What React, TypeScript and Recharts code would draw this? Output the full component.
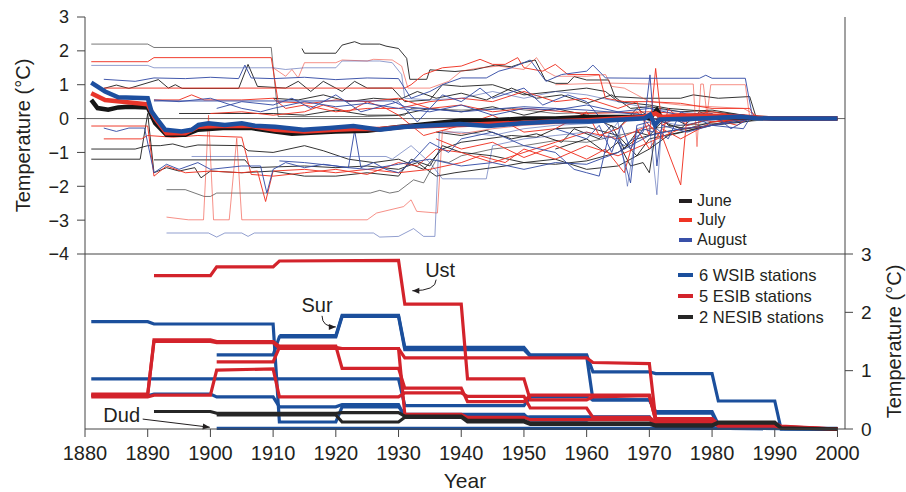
import React from "react";
import { LineChart, Line, XAxis, YAxis, ReferenceLine } from "recharts";

type Pt = [number, number];

const yearTicks = [1880, 1890, 1900, 1910, 1920, 1930, 1940, 1950, 1960, 1970, 1980, 1990, 2000];
const topTicks = [-4, -3, -2, -1, 0, 1, 2, 3];
const bottomTicks = [0, 1, 2, 3];

// thick mean curves (top panel)
const juneMean: Pt[] = [[1881,0.55],[1882,0.31],[1883.7,0.26],[1885.3,0.33],[1887,0.35],[1890,0.33],[1891.2,-0.14],[1893,-0.48],[1896,-0.48],[1898,-0.33],[1902,-0.28],[1906.6,-0.28],[1910.3,-0.38],[1913,-0.45],[1916,-0.42],[1920,-0.38],[1925,-0.36],[1930,-0.25],[1935,-0.15],[1940,-0.06],[1945,-0.05],[1950,0],[1955,0],[1960,0.05],[1965,0.05],[1969,0.05],[1970,0],[1971.2,0.25],[1972,0],[1975,0.05],[1980,0.04],[1985,0.04],[1988,0.02],[1990,0],[2000,0]];
const julyMean: Pt[] = [[1881,0.75],[1883.2,0.55],[1886,0.5],[1890,0.42],[1891.2,0],[1893,-0.43],[1896,-0.43],[1898,-0.24],[1901.3,-0.22],[1906.6,-0.22],[1910.3,-0.33],[1915,-0.38],[1920,-0.33],[1923,-0.31],[1927,-0.31],[1931,-0.24],[1935,-0.22],[1940,-0.19],[1945,-0.15],[1950,-0.12],[1955,-0.08],[1960,-0.05],[1965,0],[1969,0.05],[1970,0.1],[1971,0.15],[1972,0.05],[1975,0.08],[1980,0.08],[1985,0.06],[1988,0.02],[1990,0],[2000,0]];
const augustMean: Pt[] = [[1881,1.06],[1883.2,0.8],[1885.3,0.63],[1890,0.6],[1890.6,0.21],[1891.4,0.01],[1892.8,-0.33],[1895.4,-0.38],[1897,-0.33],[1898.1,-0.19],[1899.7,-0.14],[1902.3,-0.19],[1905,-0.14],[1907.1,-0.21],[1910.3,-0.24],[1914.8,-0.33],[1919,-0.28],[1922.8,-0.22],[1927,-0.33],[1930.8,-0.25],[1933.4,-0.22],[1939.8,-0.16],[1944.3,-0.22],[1949.6,-0.14],[1955,-0.09],[1960.3,-0.09],[1969.3,0.01],[1970.1,0.11],[1970.9,-0.19],[1971.7,-0.03],[1979.1,0.01],[1984.5,0.06],[1987.1,0.01],[1989.8,0],[2000,0]];

// individual station adjustments (top panel)
const juneLines: Pt[][] = [
  [[1881,2.2],[1890,2.2],[1891,2.1],[1909.7,2.1],[1910.8,0.06],[1925,0.06],[1931,0.1],[1932,0.3],[1940,0.25],[1948,0.3],[1955,0.15],[1965,0.2],[1970,0.1],[1980,0.05],[1986,0.05],[1990,0],[2000,0]],
  [[1914.6,2.07],[1915,1.93],[1920,1.93],[1921,2.17],[1923,2.27],[1924,2.2],[1927,2.2],[1928,2.14],[1930,2.07],[1931.3,1.78],[1931.8,1.16],[1934.5,1.16],[1935,1.44],[1939,1.39],[1942,1.44],[1945.4,1.58],[1948,1.53],[1949.6,1.63],[1951.8,1.73],[1953.4,1.14],[1955,1.04],[1957,1.04],[1958,1.24],[1960,1.14],[1963.5,1.14],[1964.5,0.65],[1969,0.6],[1975,0.6],[1977,0.7],[1981,0.6],[1986,0.65],[1987,0.05],[2000,0]],
  [[1883,0.89],[1885,0.99],[1887,0.89],[1891.7,1.15],[1893.3,0.9],[1894.4,1],[1895.5,0.89],[1904.5,0.89],[1906,1.6],[1907.5,0.95],[1912,0.9],[1914,1.1],[1916,0.8],[1918,1.1],[1921,0.8],[1923,1.1],[1925,0.9],[1929,0.9],[1931,0.5],[1935,0.55],[1937,1],[1940,0.95],[1945,1],[1950,0.7],[1955,0.8],[1960,0.9],[1963,0.8],[1965,0.5],[1970,0.4],[1973,0.3],[1980,0.2],[1985,0.1],[1988,0],[2000,0]],
  [[1881,-1.2],[1888.8,-1.2],[1890,0.15],[1891,-1.6],[1893,-1.45],[1895,-1.55],[1897.5,-1.45],[1898.5,-1.75],[1900,-1.55],[1905,-1.6],[1910,-1.55],[1915,-1.7],[1920,-1.7],[1925,-1.6],[1930,-1.7],[1932,-1.2],[1935,-1.4],[1937,-0.8],[1940,-1],[1945,-1.1],[1950,-1.3],[1955,-1.2],[1960,-1.5],[1965,-1.4],[1970,-0.9],[1973,-0.5],[1980,-0.2],[1985,-0.1],[1988,0],[2000,0]],
  [[1881,-0.9],[1888,-0.9],[1890,-0.8],[1892,-0.8],[1894,-0.75],[1896,-0.85],[1898,-0.78],[1905,-0.8],[1906,-0.95],[1910,-1],[1915,-0.8],[1918,-0.95],[1922,-1.2],[1926,-1.3],[1930,-1.2],[1934,-1.5],[1937,-0.9],[1940,-0.7],[1944,-0.6],[1948,-0.5],[1952,-0.55],[1955,-0.3],[1960,-0.25],[1965,-0.5],[1968,-1.1],[1970,-0.6],[1975,-0.4],[1982,-0.1],[1986,0],[2000,0]],
  [[1893,-2.1],[1896,-2.1],[1899,-2.3],[1900,-2.3],[1901,-2.2],[1925.5,-2.2],[1927,-2.12],[1928.6,-2.2],[1930,-2.15],[1932.4,-1.81],[1934,-1.9],[1936,-1.22],[1938,-1.3],[1940,-1.1],[1945,-0.9],[1950,-0.8],[1955,-0.65],[1960,-0.7],[1965,-0.5],[1970,-0.3],[1975,-0.2],[1985,-0.1],[1990,0],[2000,0]],
  [[1891,-1.22],[1905.5,-1.22],[1906.5,-1.45],[1915,-1.4],[1920,-1.45],[1925,-1.4],[1930,-1.5],[1933,-1.3],[1936,-1.7],[1939,-1.6],[1943,-1.5],[1947,-1.4],[1950,-1.3],[1955,-1.35],[1960,-1.25],[1965,-1],[1968,-0.6],[1972,-0.4],[1980,-0.2],[1987,0],[2000,0]],
  [[1895,0.15],[1910,0.15],[1915,0.1],[1920,0.25],[1925,0.1],[1930,0.1],[1935,0.3],[1940,0.2],[1945,0.35],[1950,0.1],[1955,0.3],[1960,0.1],[1965,-0.3],[1968,0.3],[1970,0.05],[1975,-0.3],[1978,0.2],[1982,-0.1],[1986,0.05],[1990,0],[2000,0]],
  [[1955,-0.9],[1960,-0.6],[1963,-1],[1965,-0.7],[1967,-1.4],[1969,-1.3],[1970,-1.6],[1971.5,0.2],[1973,-0.2],[1976,-0.3],[1980,-0.1],[1986,0],[2000,0]],
  [[1910,0.6],[1914,0.55],[1918,0.7],[1922,0.5],[1926,0.6],[1930,0.55],[1933,0.8],[1936,0.6],[1940,0.75],[1944,0.55],[1948,0.9],[1952,0.6],[1956,0.7],[1960,0.45],[1964,0.7],[1967,0.3],[1970,0.35],[1975,0.2],[1980,0.25],[1985,0.1],[1988,0],[2000,0]],
  [[1936,-0.4],[1940,-0.5],[1944,-0.35],[1948,-0.6],[1952,-0.45],[1956,-0.7],[1958,-0.3],[1962,-0.6],[1964,-0.2],[1966,-0.9],[1968,-0.4],[1970,-0.5],[1973,0.1],[1976,-0.2],[1980,0],[2000,0]],
];
const julyLines: Pt[][] = [
  [[1881,1.68],[1890,1.68],[1891,1.8],[1909.7,1.8],[1910.8,0.5],[1916,0.45],[1920,0.55],[1925,0.5],[1930,0.6],[1935,0.3],[1940,0.4],[1945,0.2],[1950,0.3],[1960,0.15],[1970,0.2],[1980,0.1],[1985,0.05],[1990,0],[2000,0]],
  [[1910,1.5],[1912,1.25],[1913,1.45],[1914,1.2],[1915,1.65],[1920,1.65],[1921,1.73],[1925,1.7],[1926,1.75],[1929,1.73],[1930.5,1.55],[1931.5,0.9],[1935,0.9],[1938,1.1],[1940,1.4],[1943,1.5],[1946,1.55],[1950,1.45],[1952,1.8],[1953.5,1.4],[1955,1.25],[1960,1.25],[1963,1.3],[1964,0.95],[1966,0.9],[1968,0.7],[1970,0.5],[1975,0.4],[1985,0.3],[1988,0],[2000,0]],
  [[1955,1],[1963,1.05],[1970,1.02],[1977,1.02],[1977.6,-0.83],[1978.2,1.02],[1978.6,1.02],[1979.2,0.1],[1979.8,1],[1985.3,1],[1986,0.05],[2000,0]],
  [[1883,0.9],[1931,0.9],[1932,1],[1934,1.3],[1937,1.5],[1940,1.55],[1943,1.75],[1945,1.6],[1947,1.6],[1949,1.8],[1950,1.5],[1953,1.4],[1955,1.6],[1957,1.3],[1962,1.3],[1963,0.6],[1966,0.5],[1970,0.5],[1975,0.45],[1980,0.3],[1986,0.3],[1987,0],[2000,0]],
  [[1891,0.55],[1895,0.55],[1897,0.7],[1899,0.55],[1905,0.55],[1910,0.6],[1912,0.3],[1915,0.4],[1920,0.2],[1925,0.3],[1930,0.3],[1935,0.5],[1940,0.6],[1945,0.5],[1950,0.8],[1955,0.5],[1960,0.6],[1965,0.3],[1968,0.5],[1970,-0.5],[1971,1.48],[1972,-0.2],[1975,0.1],[1980,0.2],[1985,0.05],[1988,0],[2000,0]],
  [[1881,-0.22],[1890,-0.22],[1891,-1.7],[1893,-1.4],[1896,-1.6],[1900,-1.55],[1905,-1.6],[1907.5,-1.55],[1908.8,-2.45],[1910,-1.55],[1915,-1.5],[1920,-1.6],[1925,-1.5],[1930,-1.6],[1935,-1.5],[1940,-1.3],[1943,-1.1],[1947,-1.3],[1950,-0.9],[1955,-1.2],[1960,-0.8],[1965,-1.1],[1970,-0.7],[1975,-0.3],[1980,-0.2],[1985,0],[2000,0]],
  [[1883,-0.6],[1889,-0.6],[1890,-0.5],[1894,-0.55],[1898,-0.5],[1905,-0.55],[1906.5,-1.65],[1910,-1.7],[1915,-1.6],[1920,-1.5],[1925,-1.65],[1930,-1.3],[1933,-1.4],[1936,-0.9],[1940,-1],[1945,-1.3],[1950,-1],[1955,-0.7],[1960,-0.4],[1965,-0.6],[1970,-0.2],[1972,-0.5],[1975,-1.96],[1976,0.1],[1980,-0.1],[1985,0],[2000,0]],
  [[1893,-2.91],[1896.5,-2.99],[1898.9,-2.99],[1899.7,0.1],[1900.5,-2.99],[1903,-2.99],[1904.2,-0.58],[1905,-2.99],[1925,-2.99],[1926.5,-2.79],[1930.8,-2.6],[1932,-2.4],[1932.9,-2.74],[1936.2,-2.79],[1937,-0.35],[1940,-0.45],[1945,-0.3],[1950,-0.2],[1960,-0.1],[1970,0],[2000,0]],
  [[1900,0.15],[1905,0.2],[1910,0.1],[1915,0.2],[1918,0.4],[1922,0.2],[1925,0.5],[1928,0.3],[1930,0.1],[1934,-0.5],[1938,-0.3],[1940,-0.2],[1945,0.1],[1950,-0.4],[1955,-0.3],[1960,0.2],[1962,-0.5],[1965,-0.3],[1968,0.2],[1972,-0.6],[1973,0.3],[1976,-0.2],[1980,0],[1984,-0.2],[1986,0.05],[1990,0],[2000,0]],
  [[1936,-0.6],[1940,-0.9],[1945,-0.7],[1950,-1.15],[1955,-0.8],[1960,-1.2],[1963,-0.9],[1966,-1.6],[1968,-0.3],[1970,-0.9],[1972,-0.3],[1975,-0.6],[1980,-0.1],[1984,-0.05],[1987,0],[2000,0]],
];
const augustLines: Pt[][] = [
  [[1881,1.57],[1890,1.57],[1891,1.5],[1910,1.5],[1912,1.45],[1915,1.5],[1920,1.5],[1921,1.7],[1927,1.7],[1929,1.65],[1930.5,1.3],[1931,0.6],[1935,0.55],[1940,0.6],[1945,0.8],[1950,0.6],[1955,0.8],[1960,0.7],[1965,0.5],[1970,0.3],[1975,0.2],[1980,0.1],[1985,0.05],[1988,0],[2000,0]],
  [[1883,1.16],[1888,1.1],[1891,1.2],[1896,1.18],[1900,1.22],[1904.5,1.18],[1905.5,1.58],[1906.5,1.2],[1910,1.18],[1915,1.22],[1920,1.15],[1925,1.2],[1930,1.18],[1932,0.6],[1935,0.8],[1937,1],[1940,1.2],[1944,1.2],[1946,1.4],[1948,1.5],[1951,1.73],[1953.5,1.1],[1956,1.3],[1960,1.4],[1961,1.58],[1962.5,1.3],[1963,1.2],[1970,1.19],[1978,1.19],[1979,1.28],[1980,1.19],[1985.3,1.19],[1986.5,0],[2000,0]],
  [[1891,0.55],[1895,0.5],[1900,0.6],[1905,0.3],[1908,0.2],[1910,0.3],[1915,0.5],[1920,0.35],[1925,0.45],[1930,0.3],[1935,0.2],[1940,0.4],[1945,0.1],[1950,0.3],[1955,0.25],[1960,0.4],[1965,0.2],[1970,0.3],[1975,0.1],[1980,0.15],[1983,-0.3],[1986,0],[2000,0]],
  [[1883,-0.28],[1885,-0.38],[1887,-0.28],[1889.5,-0.28],[1891,-1.6],[1893,-1.35],[1895,-1.5],[1898,-1.3],[1900,-1.5],[1905,-1.4],[1908,-1.4],[1909,-2.2],[1910,-1.5],[1912,-1.3],[1915,-1.45],[1918,-1.35],[1922,-1.45],[1925,-1.5],[1930,-1.35],[1935,-1.2],[1940,-1.4],[1945,-1.3],[1950,-1.5],[1955,-1.3],[1960,-1.35],[1965,-1],[1970,-0.5],[1975,-0.3],[1980,-0.2],[1985,0],[2000,0]],
  [[1897,-1.12],[1928,-1.12],[1929,-1.2],[1932,-0.8],[1935,-1.3],[1937,-1.78],[1944,-1.78],[1945,-0.8],[1950,-0.6],[1955,-0.5],[1960,-0.4],[1963,-0.6],[1965,-0.1],[1966.5,-2],[1968,-0.3],[1970,-0.2],[1971.2,-2.25],[1972,-0.1],[1975,-0.2],[1980,-0.05],[1985,0],[2000,0]],
  [[1893,-3.38],[1899.7,-3.38],[1901,-3.5],[1902.3,-3.38],[1905,-3.38],[1906,-3.48],[1907,-3.38],[1926,-3.38],[1927,-3.5],[1930,-3.48],[1932.4,-3.25],[1934,-3.48],[1935.8,-3.48],[1936.5,-0.4],[1940,-0.4],[1945,-0.5],[1950,-0.3],[1955,-0.2],[1960,-0.15],[1970,0],[2000,0]],
  [[1911,-1.25],[1915,-1.3],[1920,-1.4],[1922,-1.45],[1923,-0.35],[1924,-1.45],[1926,-1.3],[1928,-1.5],[1930,-1.6],[1932,-1.3],[1935,-0.7],[1938,-1],[1940,-0.6],[1945,-0.4],[1950,-0.8],[1955,-1],[1958,-1.5],[1960,-1.6],[1962,-1.7],[1963.5,-0.5],[1966,-0.8],[1969,-0.4],[1970.1,1.29],[1971.2,-1.4],[1972,-0.2],[1976,-0.4],[1980,-0.2],[1985,-0.3],[1986,0],[2000,0]],
  [[1901,0.3],[1905,0.5],[1910,0.4],[1913,0.6],[1916,0.3],[1920,0.7],[1924,0.2],[1930,0.5],[1933,-0.1],[1937,0.7],[1940,0.5],[1943,0.9],[1945,0.6],[1950,0.9],[1953,0.4],[1957,0.7],[1960,0.5],[1965,-0.6],[1967,-1.9],[1968,-0.2],[1970,-0.1],[1973,-0.6],[1975,0.2],[1980,-0.2],[1984,-0.1],[1986,0],[2000,0]],
  [[1891,0.52],[1929,0.52],[1931,0.35],[1940,0.2],[1950,0.35],[1960,0.25],[1970,0.1],[1980,0.05],[1987,0],[2000,0]],
  [[1955,-0.3],[1960,-0.6],[1962,-0.2],[1964,-1],[1965.5,-0.2],[1967,-0.9],[1969,-0.3],[1970.6,-0.4],[1972,0.1],[1975,-0.1],[1980,0],[2000,0]],
];

// bottom panel: cumulative adjustments per station
const wsibLines: Pt[][] = [
  [[1881,1.84],[1890,1.84],[1891,1.8],[1910,1.8],[1911,0.12],[1920,0.12],[1921,0.38],[1930,0.38],[1931,0.25],[1950,0.25],[1951,0.15],[1960,0.15],[1961,0.2],[1970,0.2],[1971,0.02],[2000,0]],
  [[1901,1.27],[1910,1.27],[1911,1.58],[1920,1.58],[1921,1.93],[1930,1.93],[1931,1.36],[1950,1.36],[1951,1.25],[1960,1.25],[1961,0.5],[1970,0.5],[1971,0.27],[1980,0.27],[1981,0.05],[1990,0.05],[1991,0],[2000,0]],
  [[1881,0.86],[1930,0.86],[1931,0.4],[1950,0.4],[1951,0.55],[1960,0.55],[1961,0.5],[1970,0.5],[1971,0.3],[1980,0.3],[1981,0.08],[1990,0.08],[1991,0.01],[2000,0]],
  [[1911,1.6],[1920,1.6],[1921,1.95],[1930,1.95],[1931,1.4],[1950,1.4],[1951,1.27],[1960,1.27],[1961,0.98],[1970,0.98],[1971,0.95],[1980,0.95],[1981,0.48],[1990,0.48],[1991,0],[2000,0]],
  [[1881,0.57],[1890,0.57],[1891,0.6],[1900,0.6],[1901,0.55],[1910,0.55],[1911,0.38],[1920,0.38],[1921,0.42],[1930,0.42],[1931,0.2],[1950,0.2],[1951,0.21],[1970,0.21],[1971,0.02],[2000,0]],
  [[1901,0.01],[2000,0.01]],
];
const esibLines: Pt[][] = [
  [[1891,2.63],[1900,2.63],[1901,2.78],[1910,2.78],[1911,2.88],[1930,2.89],[1931,2.14],[1940,2.14],[1941,0.86],[1950,0.86],[1951,0.5],[1960,0.5],[1961,0.55],[1970,0.57],[1971,0.15],[1980,0.15],[1981,0.1],[1990,0.1],[1991,0.05],[2000,0]],
  [[1881,0.6],[1890,0.6],[1891,1.5],[1900,1.5],[1901,1.48],[1910,1.48],[1911,1.38],[1930,1.38],[1931,1.22],[1960,1.22],[1961,1.14],[1970,1.12],[1971,0.18],[1980,0.18],[1981,0.08],[1990,0.08],[1991,0.04],[2000,0]],
  [[1881,0.58],[1890,0.58],[1891,1.53],[1900,1.53],[1901,1.5],[1910,1.5],[1911,1.42],[1920,1.42],[1921,1.04],[1930,1.04],[1931,0.7],[1940,0.7],[1941,0.47],[1950,0.47],[1951,0.58],[1970,0.58],[1971,0.15],[1980,0.15],[1981,0.06],[1990,0.06],[1991,0.03],[2000,0]],
  [[1881,0.55],[1890,0.55],[1891,0.58],[1900,0.58],[1901,1.01],[1910,1.03],[1911,0.55],[1930,0.55],[1931,0.62],[1940,0.62],[1941,0.56],[1950,0.56],[1951,0.36],[1960,0.36],[1961,0.2],[1970,0.2],[1971,0.12],[1980,0.12],[1981,0.05],[1990,0.05],[1991,0.02],[2000,0]],
  [[1901,1.15],[1910,1.15],[1911,1.4],[1920,1.4],[1921,1.38],[1930,1.38],[1931,0.25],[1940,0.25],[1941,0.2],[1950,0.2],[1951,0.16],[1970,0.16],[1971,0.1],[1990,0.08],[1991,0.03],[2000,0]],
];
const nesibLines: Pt[][] = [
  [[1891,0.3],[1900,0.3],[1901,0.27],[1920,0.27],[1921,0.28],[1930,0.28],[1931,0.22],[1940,0.22],[1941,0.15],[1950,0.15],[1951,0.1],[1970,0.1],[1971,0.07],[1980,0.07],[1981,0.12],[1990,0.12],[1991,0.02],[2000,0]],
  [[1901,0.24],[1920,0.24],[1921,0.12],[1930,0.12],[1931,0.2],[1940,0.2],[1941,0.12],[1950,0.12],[1951,0.08],[1970,0.08],[1971,0.05],[1980,0.05],[1981,0.1],[1990,0.1],[1991,0.01],[2000,0]],
];

const rows = (pts: Pt[]) => pts.map(([year, t]) => ({ year, t }));
const fmtMinus = (v: number) => (v < 0 ? `\u2212${Math.abs(v)}` : `${v}`);

const AXIS = "#444";
const TXT = "#231f20";
const X_DOMAIN: [number, number] = [1880, 2001.2];

const yLabel = (text: string, side: "left" | "right", offset: number) => (p: any) => {
  const vb = p.viewBox || {};
  const cx = side === "left" ? vb.x + offset : vb.x + vb.width - offset;
  const cy = vb.y + vb.height / 2;
  return (
    <text x={cx} y={cy} transform={`rotate(-90 ${cx} ${cy})`} textAnchor="middle" dominantBaseline="central" fontSize={20} fill={TXT}>
      {text}
    </text>
  );
};

const arrow = (text: string, tx: number, ty: number, bend: "down" | "none") => (p: any) => {
  const { x1, y1, x2, y2 } = p;
  const d = bend === "down" ? `M${x1},${y1} Q${x1},${y2} ${x2},${y2}` : `M${x1},${y1} L${x2},${y2}`;
  const ang = bend === "down" ? Math.atan2(0, x2 - x1) : Math.atan2(y2 - y1, x2 - x1);
  const L = 7, W = 3;
  const bx = x2 - L * Math.cos(ang), by = y2 - L * Math.sin(ang);
  const head = `M${x2},${y2} L${bx - W * Math.sin(ang)},${by + W * Math.cos(ang)} L${bx + W * Math.sin(ang)},${by - W * Math.cos(ang)} Z`;
  return (
    <g>
      <path d={d} fill="none" stroke={TXT} strokeWidth={1} />
      <path d={head} fill={TXT} />
      <text x={x1 + tx} y={y1 + ty} textAnchor="middle" fontSize={20} fill={TXT}>{text}</text>
    </g>
  );
};

const juneLight = [0, 5];
const julyLight = [1, 2, 7];
const augustLight = [0, 4, 5];

function LegendItem({ top, left, color, label, len, gap, size }: any) {
  return (
    <div style={{ position: "absolute", top: top - 10, left, height: 20, display: "flex", alignItems: "center", whiteSpace: "nowrap" }}>
      <span style={{ display: "inline-block", width: len, height: 4, background: color }} />
      <span style={{ marginLeft: gap, fontSize: size, color: TXT, lineHeight: "20px" }}>{label}</span>
    </div>
  );
}

export default function App() {
  return (
    <div style={{ position: "absolute", left: 0, top: 0, width: 906, height: 492, background: "#fff", fontFamily: "'Liberation Sans', Arial, sans-serif" }}>
      <div style={{ position: "absolute", left: 0, top: 0 }}>
        <LineChart width={906} height={266} margin={{ top: 17, right: 0, bottom: 8, left: 0 }}>
          <XAxis xAxisId="b" type="number" dataKey="year" domain={X_DOMAIN} allowDataOverflow tick={false} tickLine={false} axisLine={{ stroke: AXIS }} height={4} />
          <XAxis xAxisId="t" orientation="top" type="number" domain={X_DOMAIN} tick={false} tickLine={false} axisLine={{ stroke: AXIS }} height={0} />
          <YAxis yAxisId="l" type="number" domain={[-4, 3]} ticks={topTicks} tickFormatter={fmtMinus} width={85} tickSize={8} tickMargin={8}
            tick={{ fontSize: 18, fill: TXT }} axisLine={{ stroke: AXIS }} tickLine={{ stroke: AXIS }} interval={0}
            label={yLabel("Temperature (\u00b0C)", "left", 23)} />
          <YAxis yAxisId="r" orientation="right" type="number" domain={[-4, 3]} width={61} tick={false} tickLine={false} axisLine={{ stroke: AXIS }} />
          <ReferenceLine xAxisId="b" yAxisId="l" y={0} stroke="#666" strokeWidth={1} />
          {juneLines.map((l, i) => (
            <Line key={`j${i}`} xAxisId="b" yAxisId="l" data={rows(l)} dataKey="t" type="linear" dot={false} stroke="#1e1e1e"
              strokeOpacity={juneLight.includes(i) ? 0.6 : 0.9} strokeWidth={1} isAnimationActive={false} />
          ))}
          {julyLines.map((l, i) => (
            <Line key={`u${i}`} xAxisId="b" yAxisId="l" data={rows(l)} dataKey="t" type="linear" dot={false} stroke="#ef3424"
              strokeOpacity={julyLight.includes(i) ? 0.55 : 0.95} strokeWidth={1} isAnimationActive={false} />
          ))}
          {augustLines.map((l, i) => (
            <Line key={`a${i}`} xAxisId="b" yAxisId="l" data={rows(l)} dataKey="t" type="linear" dot={false} stroke="#3950a8"
              strokeOpacity={augustLight.includes(i) ? 0.55 : 0.95} strokeWidth={1} isAnimationActive={false} />
          ))}
          <Line xAxisId="b" yAxisId="l" data={rows(juneMean)} dataKey="t" type="linear" dot={false} stroke="#161616" strokeWidth={4.5} isAnimationActive={false} />
          <Line xAxisId="b" yAxisId="l" data={rows(julyMean)} dataKey="t" type="linear" dot={false} stroke="#e8352a" strokeWidth={4.5} isAnimationActive={false} />
          <Line xAxisId="b" yAxisId="l" data={rows(augustMean)} dataKey="t" type="linear" dot={false} stroke="#1d4f9f" strokeWidth={4.5} isAnimationActive={false} />
        </LineChart>
      </div>

      <div style={{ position: "absolute", left: 0, top: 240 }}>
        <LineChart width={906} height={252} margin={{ top: 14, right: 0, bottom: 3, left: 0 }}>
          <XAxis xAxisId="b" type="number" dataKey="year" domain={X_DOMAIN} allowDataOverflow ticks={yearTicks} interval={0} height={60}
            tickSize={8} tickMargin={9} tick={{ fontSize: 20, fill: TXT }} axisLine={{ stroke: AXIS }} tickLine={{ stroke: AXIS }}
            label={(p: any) => {
              const vb = p.viewBox || {};
              return <text x={vb.x + vb.width / 2} y={vb.y + vb.height - 1} textAnchor="middle" fontSize={21} fill={TXT}>Year</text>;
            }} />
          <YAxis yAxisId="l" type="number" domain={[0, 3]} width={85} tick={false} tickLine={false} axisLine={{ stroke: AXIS }} />
          <YAxis yAxisId="r" orientation="right" type="number" domain={[0, 3]} ticks={bottomTicks} interval={0} width={61} tickSize={8} tickMargin={8}
            tick={{ fontSize: 19, fill: TXT }} axisLine={{ stroke: AXIS }} tickLine={{ stroke: AXIS }}
            label={yLabel("Temperature (\u00b0C)", "right", 12)} />
          {wsibLines.map((l, i) => (
            <Line key={`w${i}`} xAxisId="b" yAxisId="r" data={rows(l)} dataKey="t" type="linear" dot={false} stroke="#1b4f9c" strokeWidth={3.2} isAnimationActive={false} />
          ))}
          {esibLines.map((l, i) => (
            <Line key={`e${i}`} xAxisId="b" yAxisId="r" data={rows(l)} dataKey="t" type="linear" dot={false} stroke="#d3232b" strokeWidth={3.2} isAnimationActive={false} />
          ))}
          {nesibLines.map((l, i) => (
            <Line key={`n${i}`} xAxisId="b" yAxisId="r" data={rows(l)} dataKey="t" type="linear" dot={false} stroke="#262626" strokeWidth={3.2} isAnimationActive={false} />
          ))}
          <ReferenceLine xAxisId="b" yAxisId="r" ifOverflow="visible" segment={[{ x: 1936, y: 2.56 }, { x: 1932.2, y: 2.37 }]} shape={arrow("Ust", 4, -3, "down")} />
          <ReferenceLine xAxisId="b" yAxisId="r" ifOverflow="visible" segment={[{ x: 1917.8, y: 1.94 }, { x: 1920, y: 1.75 }]} shape={arrow("Sur", -5, -4, "down")} />
          <ReferenceLine xAxisId="b" yAxisId="r" ifOverflow="visible" segment={[{ x: 1889.2, y: 0.17 }, { x: 1899.9, y: 0.03 }]} shape={arrow("Dud", -21, 3, "none")} />
        </LineChart>
      </div>

      <LegendItem top={201} left={679} color="#231f20" label="June" len={13} gap={5} size={16} />
      <LegendItem top={220} left={679} color="#ef3424" label="July" len={13} gap={5} size={16} />
      <LegendItem top={240} left={679} color="#3950a8" label="August" len={13} gap={5} size={16} />

      <LegendItem top={275} left={678} color="#1b4f9c" label="6 WSIB stations" len={15} gap={6} size={16.5} />
      <LegendItem top={296} left={678} color="#d3232b" label="5 ESIB stations" len={15} gap={6} size={16.5} />
      <LegendItem top={317} left={678} color="#262626" label="2 NESIB stations" len={15} gap={6} size={16.5} />
    </div>
  );
}
